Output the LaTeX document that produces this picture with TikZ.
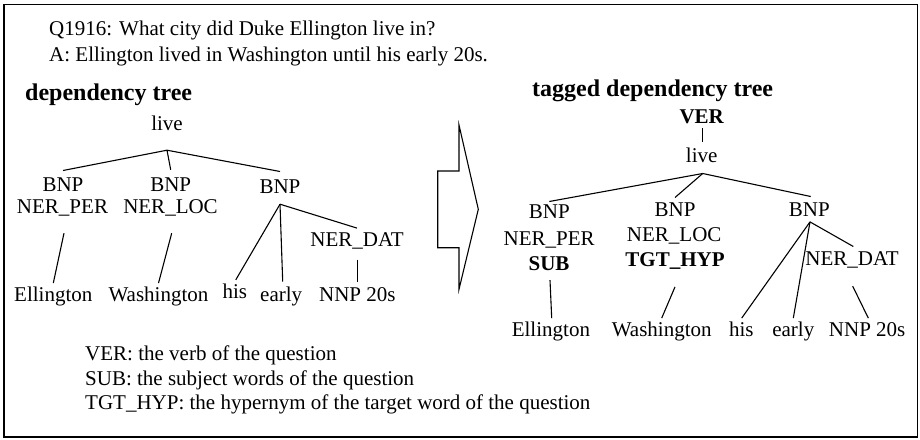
\documentclass[tikz,border=0pt]{standalone}
\usepackage{fontspec}
\setmainfont{Liberation Serif}
\begin{document}
\begin{tikzpicture}[x=1pt,y=-1pt,
  font=\fontsize{21pt}{26pt}\selectfont,
  word/.style={inner sep=0pt, text height=14pt, text depth=4pt, anchor=base},
  lefttext/.style={inner sep=0pt, anchor=base west},
  heading/.style={inner sep=0pt, anchor=base west, font=\fontsize{24pt}{28pt}\selectfont\bfseries},
  edge/.style={line width=1.1pt},
  frame/.style={line width=1.3pt}]
\useasboundingbox (0,0) rectangle (920,439);

% outer frame
\draw[frame] (4,4.5) rectangle (917.5,437);

% question and answer
\node[lefttext] (q) at (49,35) {Q1916: What city did Duke Ellington live in?};
\node[lefttext] (a) at (49,61) {A: Ellington lived in Washington until his early 20s.};

% ---------- plain dependency tree ----------
\node[heading] (titleA) at (25,100) {dependency tree};
\node[word] (liveA) at (167,130) {live};
\node[word] (bnpA1) at (63,191.7) {BNP};
\node[word] (perA) at (62.5,213) {NER\_PER};
\node[word] (bnpA2) at (170.7,191.7) {BNP};
\node[word] (locA) at (170.5,213) {NER\_LOC};
\node[word] (bnpA3) at (280,193.5) {BNP};
\node[word] (datA) at (357,246.7) {NER\_DAT};
\node[word] (ellA) at (53.3,301.7) {Ellington};
\node[word] (washA) at (158.5,301.7) {Washington};
\node[word] (hisA) at (234.8,298.3) {his};
\node[word] (earlyA) at (281.2,301.7) {early};
\node[word] (nnpA) at (357.3,301) {NNP 20s};

\coordinate (forkA) at ([yshift=-16pt]liveA.south);
\draw[edge] (forkA) -- ([yshift=7pt]bnpA1.north);
\draw[edge] (forkA) -- ([yshift=7.7pt]bnpA2.north);
\draw[edge] (forkA) -- ([yshift=7.8pt]bnpA3.north);
\coordinate (forkA3) at ([yshift=-6.5pt]bnpA3.south);
\draw[edge] (forkA3) -- ([xshift=1pt,yshift=4.3pt]hisA.north);
\draw[edge] (forkA3) -- ([xshift=1.5pt,yshift=6pt]earlyA.north);
\draw[edge] (forkA3) -- ([yshift=4.4pt]datA.north);
\draw[edge] ([xshift=1.5pt,yshift=-16pt]perA.south) -- ([yshift=4.4pt]ellA.north);
\draw[edge] ([xshift=1.2pt,yshift=-16pt]locA.south) -- ([yshift=4.4pt]washA.north);
\draw[edge] ([xshift=0.7pt,yshift=-8.6pt]datA.south) -- ([xshift=0.4pt,yshift=5.3pt]nnpA.north);

% ---------- block arrow ----------
\draw[edge, line join=miter] (459,125) -- (478.3,209.3) -- (459,289.3) -- (459,247.7)
  -- (437.7,247.7) -- (437.7,171) -- (459,171) -- cycle;

% ---------- tagged dependency tree ----------
\node[heading] (titleB) at (532,96.7) {tagged dependency tree};
\node[word] (verB) at (701.7,123.3) {\bfseries VER};
\node[word] (liveB) at (701.7,162.7) {live};
\node[word] (bnpB1) at (549.3,218.3) {BNP};
\node[word] (perB) at (549.2,245) {NER\_PER};
\node[word] (subB) at (549,270) {\bfseries SUB};
\node[word] (bnpB2) at (675,216.7) {BNP};
\node[word] (locB) at (674.2,241.7) {NER\_LOC};
\node[word] (tgtB) at (675,266.7) {\bfseries TGT\_HYP};
\node[word] (bnpB3) at (809.3,216.7) {BNP};
\node[word] (datB) at (852,265) {NER\_DAT};
\node[word] (ellB) at (550.9,336.7) {Ellington};
\node[word] (washB) at (661.7,336.7) {Washington};
\node[word] (hisB) at (741.3,336.7) {his};
\node[word] (earlyB) at (793.3,336.7) {early};
\node[word] (nnpB) at (867.2,336.7) {NNP 20s};

\draw[edge] ([xshift=1pt,yshift=-0.4pt]verB.south) -- ([xshift=1pt,yshift=7pt]liveB.north);
\coordinate (forkB) at ([xshift=1pt,yshift=-6.6pt]liveB.south);
\draw[edge] (forkB) -- ([yshift=2.6pt]bnpB1.north);
\draw[edge] (forkB) -- ([yshift=5pt]bnpB2.north);
\draw[edge] (forkB) -- ([xshift=1.4pt,yshift=6pt]bnpB3.north);
\coordinate (forkB3) at ([xshift=0.7pt,yshift=-1pt]bnpB3.south);
\draw[edge] (forkB3) -- ([xshift=0.4pt,yshift=4.4pt]hisB.north);
\draw[edge] (forkB3) -- ([yshift=4.4pt]earlyB.north);
\draw[edge] (forkB3) -- ([xshift=1.3pt,yshift=4.3pt]datB.north);
\draw[edge] ([xshift=1pt,yshift=-6pt]subB.south) -- ([xshift=0.8pt,yshift=4.4pt]ellB.north);
\draw[edge] ([yshift=-16pt]tgtB.south) -- ([yshift=4.4pt]washB.north);
\draw[edge] ([xshift=0.7pt,yshift=-17pt]datB.south) -- ([xshift=1.1pt,yshift=4.4pt]nnpB.north);

% ---------- legend ----------
\node[lefttext] (legVer) at (85,360.7) {VER: the verb of the question};
\node[lefttext] (legSub) at (85,385) {SUB: the subject words of the question};
\node[lefttext] (legTgt) at (85,409.3) {TGT\_HYP: the hypernym of the target word of the question};
\end{tikzpicture}
\end{document}
